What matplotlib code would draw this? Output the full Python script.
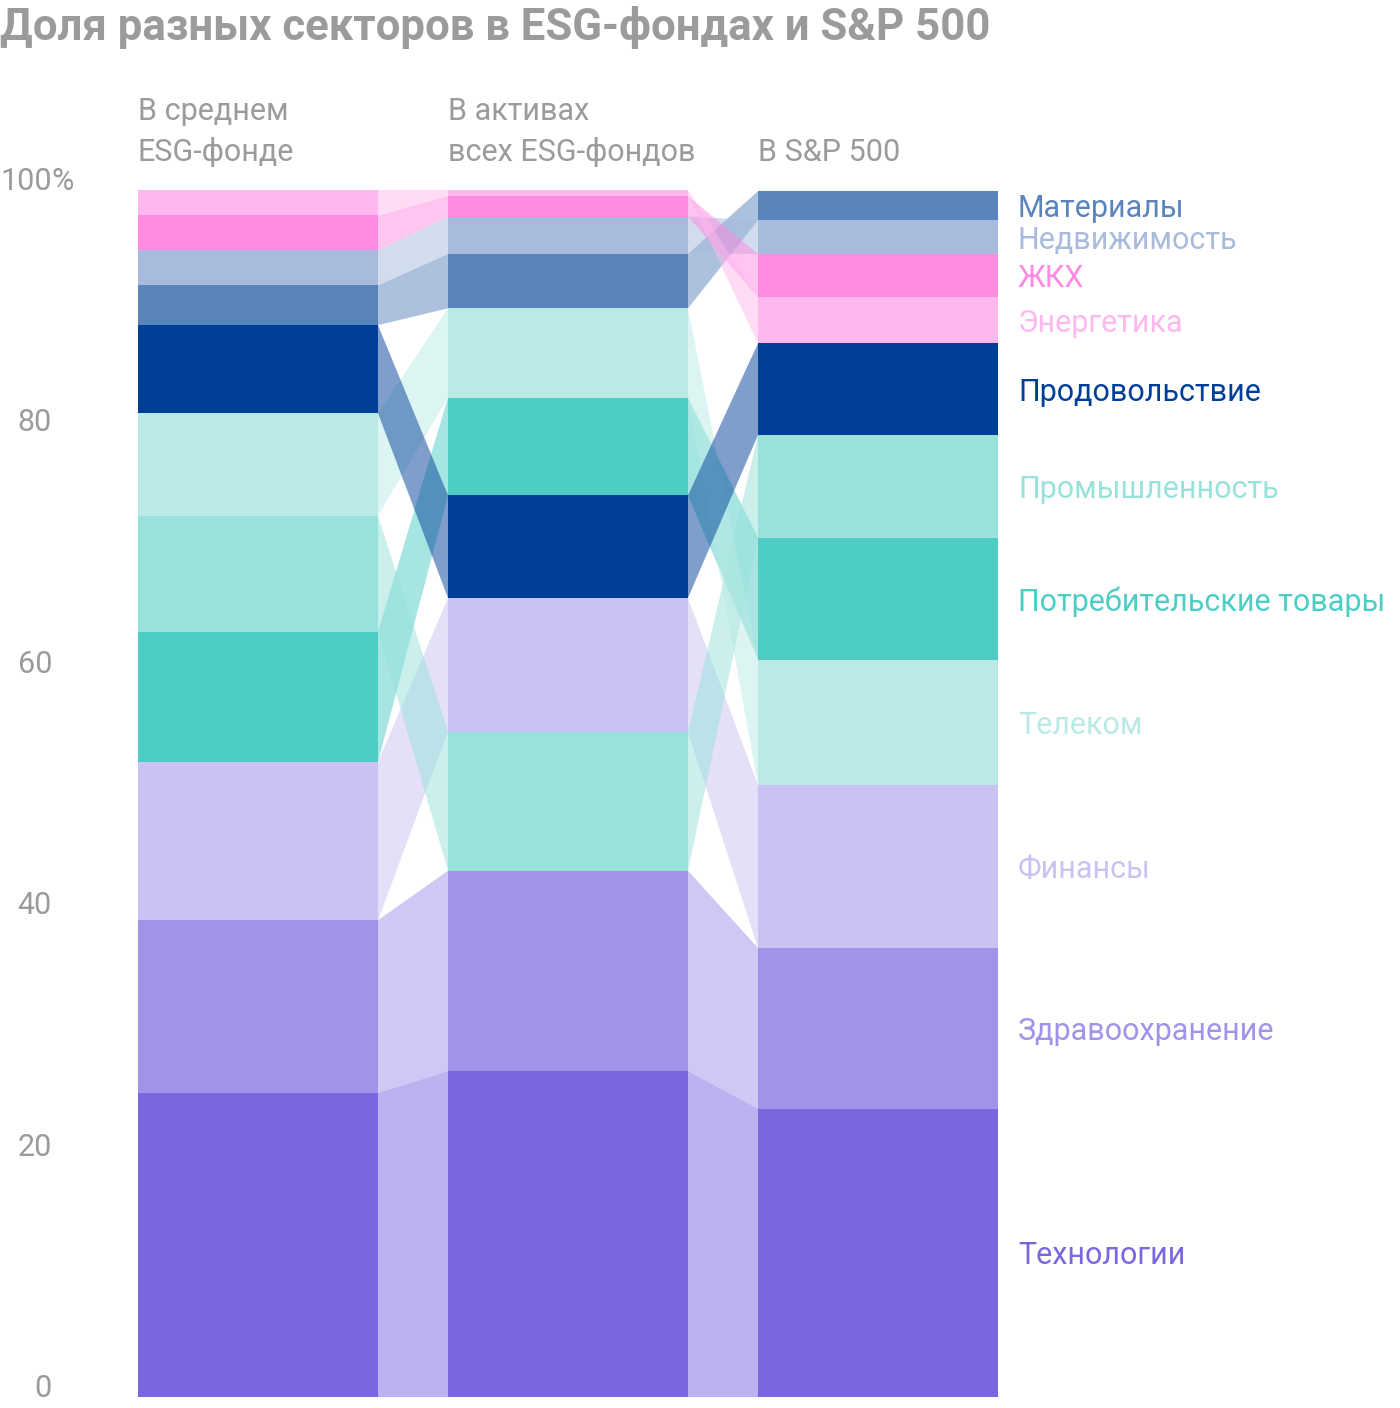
import matplotlib
matplotlib.use('Agg')
import matplotlib.pyplot as plt
import matplotlib.transforms as mtransforms

plt.rcParams['font.family'] = ['Roboto', 'DejaVu Sans']

# sectors and colours
sectors = ['Технологии', 'Здравоохранение', 'Финансы', 'Потребительские товары',
           'Промышленность', 'Телеком', 'Продовольствие', 'Материалы',
           'Недвижимость', 'ЖКХ', 'Энергетика']
colors = ['#7A66E0', '#A093EA', '#C9C2F3', '#4ECDC4', '#98E2DB', '#BAEAE6',
          '#003F98', '#5A85BC', '#A8BBDC', '#FF8AE2', '#FFB8EE']

# shares, % (same order as sectors)
avg_fund = [25.2, 14.3, 13.1, 10.8, 9.6, 8.5, 7.3, 3.3, 2.9, 2.9, 2.1]
all_funds = [27.0, 16.6, 11.1, 8.1, 11.5, 7.4, 8.5, 4.5, 3.1, 1.7, 0.5]
sp500 = [23.9, 13.3, 13.5, 10.1, 8.5, 10.4, 7.6, 2.4, 2.8, 3.6, 3.8]

# stacking order in each column, bottom to top
order_avg = ['Технологии', 'Здравоохранение', 'Финансы', 'Потребительские товары',
             'Промышленность', 'Телеком', 'Продовольствие', 'Материалы',
             'Недвижимость', 'ЖКХ', 'Энергетика']
order_all = ['Технологии', 'Здравоохранение', 'Промышленность', 'Финансы',
             'Продовольствие', 'Потребительские товары', 'Телеком', 'Материалы',
             'Недвижимость', 'ЖКХ', 'Энергетика']
order_sp = ['Технологии', 'Здравоохранение', 'Финансы', 'Телеком',
            'Потребительские товары', 'Промышленность', 'Продовольствие',
            'Энергетика', 'ЖКХ', 'Недвижимость', 'Материалы']

headers = ['В среднем\nESG-фонде', 'В активах\nвсех ESG-фондов', 'В S&P 500']
yticks = [0, 20, 40, 60, 80, 100]

columns = [(avg_fund, order_avg), (all_funds, order_all), (sp500, order_sp)]
color_of = dict(zip(sectors, colors))

W, H = 1400, 1408
fig = plt.figure(figsize=(W / 100, H / 100), dpi=100)
bar_w = 240 / 310
ax = fig.add_axes([138 / W, (H - 1397) / H, 860 / W, 1207 / H])
ax.set_xlim(-bar_w / 2, 2 + bar_w / 2)
ax.set_ylim(0, 100)
ax.axis('off')

# spans of every sector in every column
spans = []
for i, (vals, order) in enumerate(columns):
    val_of = dict(zip(sectors, vals))
    bottom = 0
    col = {}
    for s in order:
        v = val_of[s]
        ax.bar(i, v, bottom=bottom, width=bar_w, color=color_of[s], linewidth=0)
        col[s] = (bottom, bottom + v)
        bottom += v
    spans.append(col)

# flows between columns
for i in range(len(columns) - 1):
    x1 = i + bar_w / 2
    x2 = i + 1 - bar_w / 2
    for s in sectors:
        a0, a1 = spans[i][s]
        b0, b1 = spans[i + 1][s]
        ax.fill([x1, x1, x2, x2], [a0, a1, b1, b0], color=color_of[s],
                alpha=0.5, linewidth=0)

grey = '#9B9B9B'
fs = 22
trans = mtransforms.blended_transform_factory(fig.transFigure, ax.transData)
for t in yticks:
    ax.text(52 / W, t, str(t), transform=trans, ha='right', va='baseline',
            fontsize=fs, color=grey)
ax.text(51 / W, yticks[-1], '%', transform=trans, ha='left', va='baseline',
        fontsize=fs, color=grey)

# sector labels next to the last column
for s in sectors:
    lo, hi = spans[-1][s]
    ax.text(1018 / W, (lo + hi) / 2, s, transform=trans, ha='left',
            va='center_baseline', fontsize=fs, color=color_of[s])

# column headers
for i, h in enumerate(headers):
    fig.text((138 + i * 310) / W, 1 - 161 / H, h, ha='left', va='baseline',
             fontsize=fs, color=grey, linespacing=1.45)

fig.text(0, 1 - 40 / H, 'Доля разных секторов в ESG-фондах и S&P 500',
         ha='left', va='baseline', fontsize=31.5, fontweight='bold', color=grey)

fig.savefig('out.png', dpi=100, facecolor='white')
